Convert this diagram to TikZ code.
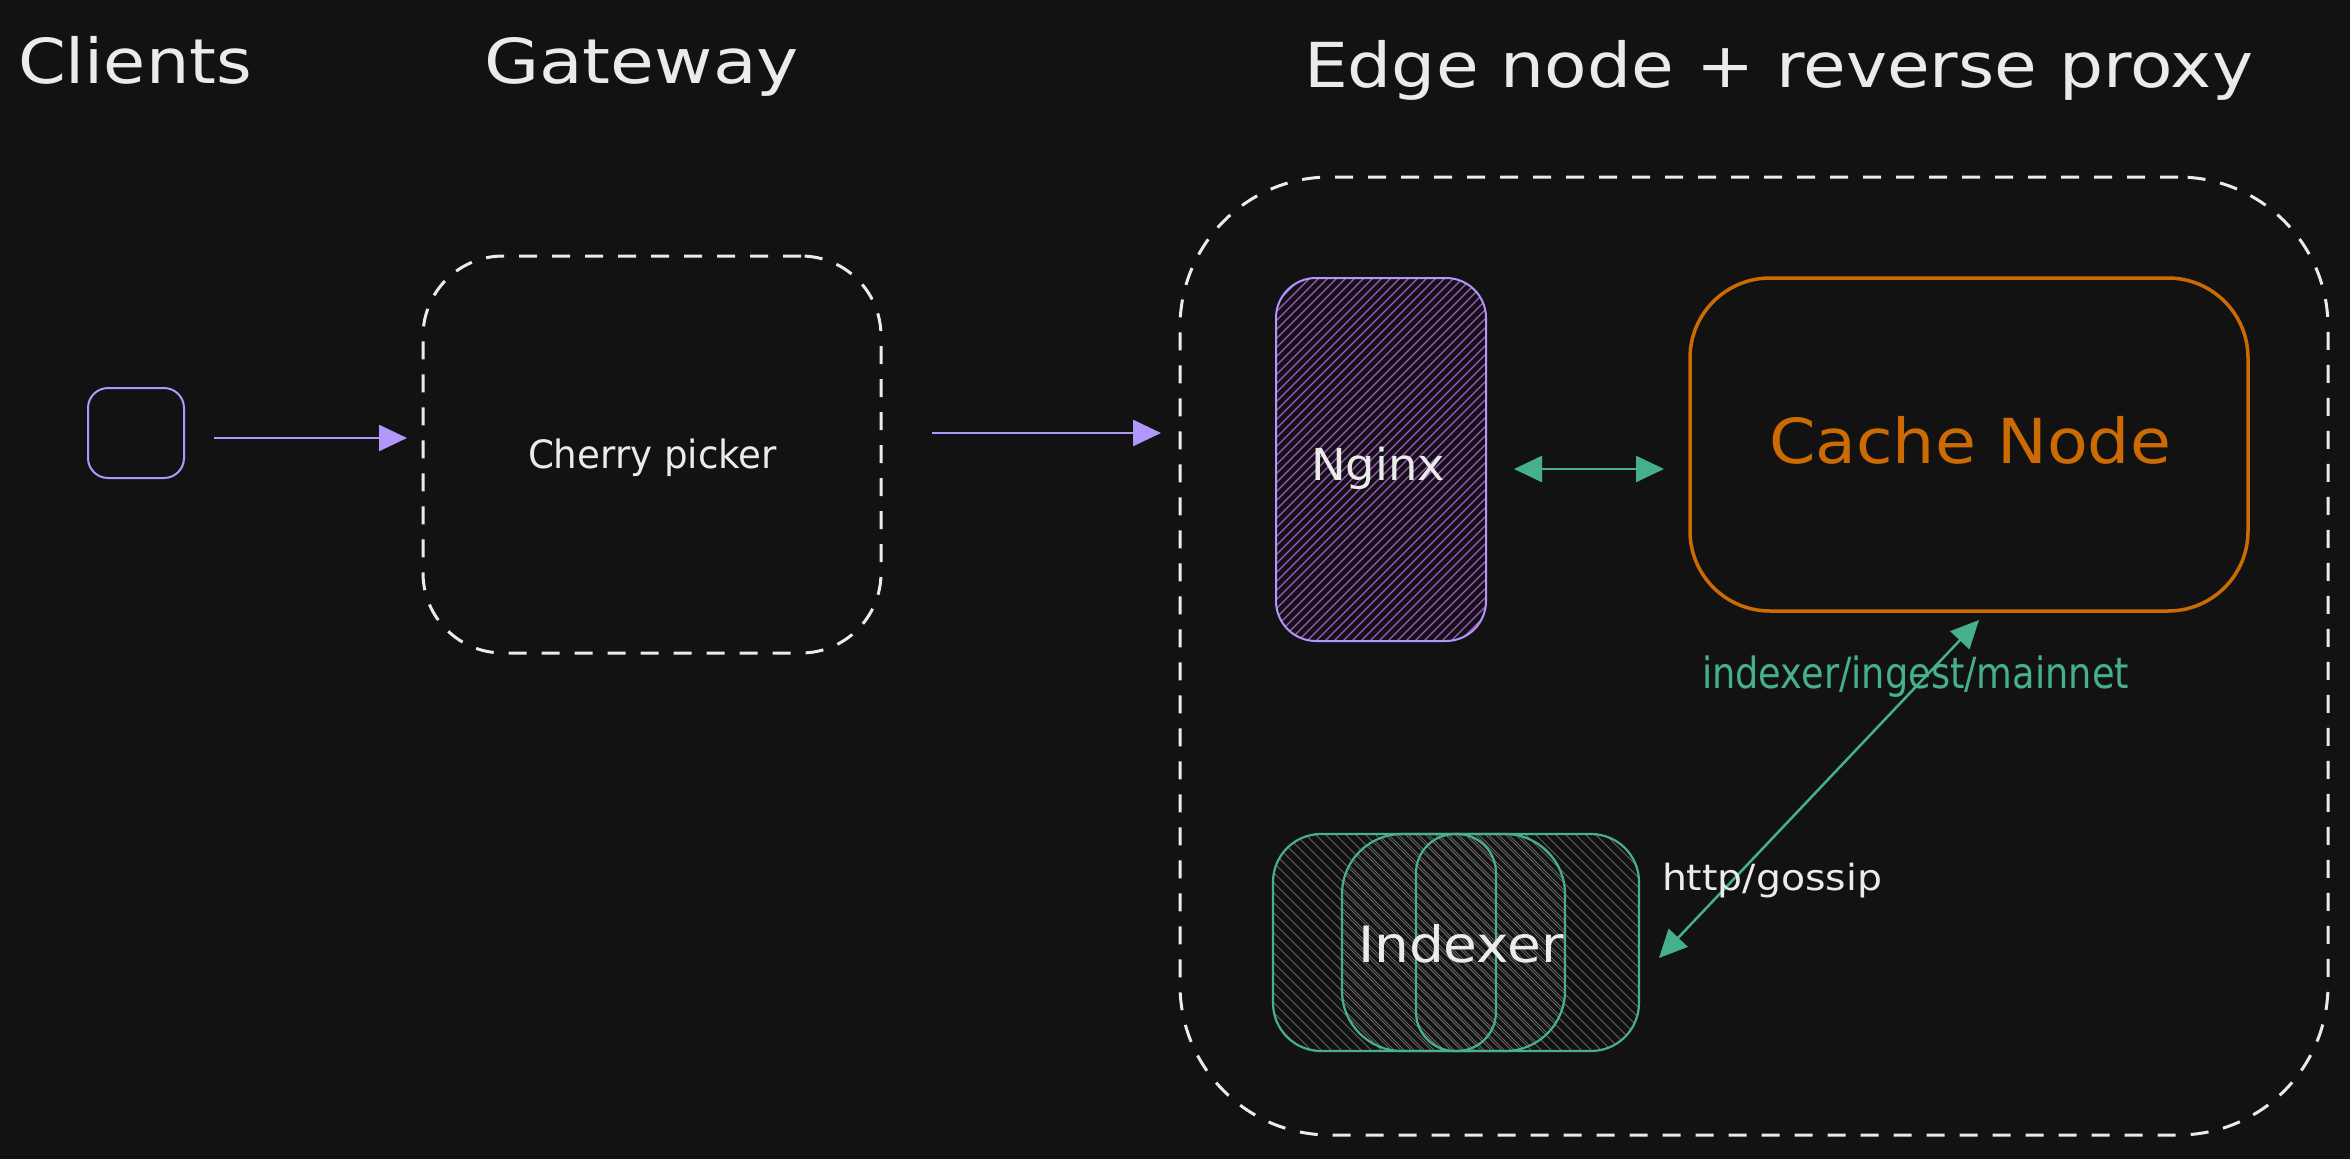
\documentclass[tikz,border=0pt]{standalone}
\usepackage{fontspec}
\setmainfont{DejaVu Sans}
\usepackage{graphicx}
\usetikzlibrary{arrows.meta}
\definecolor{bgc}{HTML}{121212}
\definecolor{ink}{HTML}{EBEBEB}
\definecolor{lav}{HTML}{B197FC}
\definecolor{hpurple}{HTML}{A855D0}
\definecolor{tealc}{HTML}{46B08E}
\definecolor{orng}{HTML}{CC6A04}
\definecolor{hgrey}{HTML}{646464}
\newcommand{\fitt}[3]{\resizebox{#1pt}{\height}{\fontsize{#2pt}{#2pt}\selectfont #3}}
\begin{document}
\begin{tikzpicture}[x=1pt,y=-1pt,
  txt/.style={inner sep=0pt, outer sep=0pt, anchor=base west, text=ink},
  boxbase/.style={inner sep=0pt, outer sep=0pt},
  dashbox/.style={boxbase, draw=ink, line width=3pt, dash pattern=on 18pt off 15pt},
  parrow/.style={draw=lav, line width=2.5pt, -{Triangle[length=28pt,width=26pt]}},
  garrow/.style={draw=tealc, line width=2.5pt, {Triangle[length=28pt,width=26pt]}-{Triangle[length=28pt,width=26pt]}},
  phatch/.style={path picture={
    \foreach \k in {0,9,...,585}
      \draw[hpurple, line width=1.2pt] (path picture bounding box.north west) ++(\k,-2) -- ++(-620,620);}},
  ghatch/.style={path picture={
    \foreach \k in {-230,-220,...,380}
      \draw[hgrey, line width=0.8pt] (path picture bounding box.north west) ++(\k+#1,-2) -- ++(420,420);}}
]
\fill[bgc] (0,0) rectangle (2350,1159);
\useasboundingbox (0,0) rectangle (2350,1159);

% helper coordinates for horizontal connector levels
\coordinate (y438) at (0,438);
\coordinate (y433) at (0,433);
\coordinate (y469) at (0,469);

% titles
\node[txt] (tclients) at (18,83) {\fitt{234}{62}{Clients}};
\node[txt] (tgateway) at (484,83) {\fitt{315}{62}{Gateway}};
\node[txt] (tedge) at (1304,87) {\fitt{949}{62}{Edge node + reverse proxy}};

% client
\node[boxbase, draw=lav, line width=2pt, rounded corners=20pt, minimum width=96pt, minimum height=90pt] (client) at (136,433) {};

% gateway
\node[dashbox, rounded corners=80pt, minimum width=458pt, minimum height=397pt] (gateway) at (652,454.5) {};
\node[txt] (tcherry) at (528,468) {\fitt{249}{39}{Cherry picker}};

% edge box
\node[dashbox, rounded corners=150pt, minimum width=1148pt, minimum height=958pt] (edge) at (1754,656) {};

% nginx
\node[boxbase, draw=lav, line width=2pt, rounded corners=40pt, minimum width=210pt, minimum height=363pt, phatch] (nginx) at (1381,459.5) {};
\node[txt] (tnginx) at (1311,480) {\fitt{134}{44}{Nginx}};

% cache node
\node[boxbase, draw=orng, line width=3.5pt, rounded corners=80pt, minimum width=558pt, minimum height=333pt] (cache) at (1969,444.5) {};
\node[txt, text=orng] (tcache) at (1769,463) {\fitt{402}{62}{Cache Node}};

% indexer stack
\node[boxbase, draw=tealc, line width=2.2pt, rounded corners=48pt, minimum width=366pt, minimum height=217pt, ghatch=0] (idxa) at (1456,942.5) {};
\node[boxbase, draw=tealc, line width=2.2pt, rounded corners=60pt, minimum width=223pt, minimum height=217pt, ghatch=4] (idxb) at (1453.5,942.5) {};
\node[boxbase, draw=tealc, line width=2.2pt, rounded corners=39pt, minimum width=80pt, minimum height=217pt, ghatch=7] (idxc) at (1456,942.5) {};
\node[txt] (tindexer) at (1358,962) {\fitt{206}{50}{Indexer}};

% connectors
\draw[parrow, shorten <=30pt, shorten >=16pt] (client.east |- y438) -- (gateway.west |- y438);
\draw[parrow, shorten <=51pt, shorten >=19pt] (gateway.east |- y433) -- (edge.west |- y433);
\draw[garrow, shorten <=28pt, shorten >=26pt] (nginx.east |- y469) -- (cache.west |- y469);

\coordinate (dbot) at (1659,958);
\coordinate (dtop) at (1979,620);
\draw[garrow] (dbot) -- (dtop);

% labels
\node[txt, text=tealc] (tingest) at (1702,688) {\fitt{427}{43}{indexer/ingest/mainnet}};
\node[txt] (tgossip) at (1662,890) {\fitt{220}{36}{http/gossip}};
\end{tikzpicture}
\end{document}
